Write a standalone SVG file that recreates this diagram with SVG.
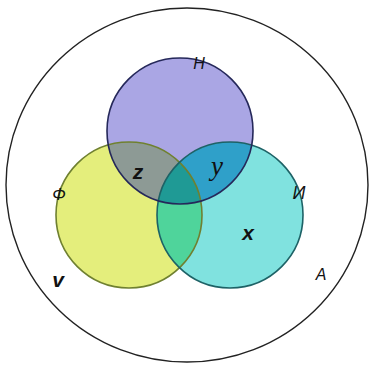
<svg xmlns="http://www.w3.org/2000/svg" width="374" height="366" viewBox="0 0 374 366">
<style>
.lbl{font-family:"Liberation Sans",Arial,sans-serif;fill:#111;font-style:italic}
.edge{fill:none;stroke-width:1.6}
</style>
<defs>
<clipPath id="cP"><circle cx="180" cy="131" r="73"/></clipPath>
<clipPath id="cY"><circle cx="129" cy="215" r="73"/></clipPath>
<clipPath id="cC"><circle cx="230" cy="215" r="73"/></clipPath>
</defs>
<rect width="374" height="366" fill="#ffffff"/>
<g id="universe">
<ellipse cx="187" cy="185" rx="181" ry="177" fill="none" stroke="#222" stroke-width="1.4"/>
</g>
<g id="set-N"><circle cx="180" cy="131" r="73" fill="#aaa6e4"/></g>
<g id="set-F"><circle cx="129" cy="215" r="73" fill="#e4ee7c"/></g>
<g id="set-I"><circle cx="230" cy="215" r="73" fill="#80e2df"/></g>
<g id="regions">
<circle cx="129" cy="215" r="73" fill="#8d9a95" clip-path="url(#cP)"/>
<circle cx="230" cy="215" r="73" fill="#2fa0c9" clip-path="url(#cP)"/>
<circle cx="230" cy="215" r="73" fill="#4fd49b" clip-path="url(#cY)"/>
<g clip-path="url(#cP)"><circle cx="230" cy="215" r="73" fill="#1f9a95" clip-path="url(#cY)"/></g>
</g>
<g id="outlines">
<circle class="edge" cx="129" cy="215" r="73" stroke="#6f8030"/>
<circle class="edge" cx="230" cy="215" r="73" stroke="#1d6266"/>
<circle class="edge" cx="180" cy="131" r="73" stroke="#25285a"/>
</g>
<g id="labels">
<text class="lbl" x="199" y="69" font-size="16" text-anchor="middle">Н</text>
<text class="lbl" x="59" y="200" font-size="17" text-anchor="middle">Ф</text>
<text class="lbl" x="299" y="199" font-size="18" text-anchor="middle">И</text>
<text class="lbl" x="138" y="179" font-size="21" font-weight="bold" text-anchor="middle">z</text>
<text x="217" y="175" font-size="27" font-style="italic" font-family="'Liberation Serif','Times New Roman',serif" fill="#111" text-anchor="middle">y</text>
<text class="lbl" x="248" y="240" font-size="21" font-weight="bold" text-anchor="middle">x</text>
<text class="lbl" x="58" y="287" font-size="21" font-weight="bold" font-style="normal" text-anchor="middle">v</text>
<text class="lbl" x="321" y="280" font-size="16" text-anchor="middle">А</text>
</g>
</svg>
